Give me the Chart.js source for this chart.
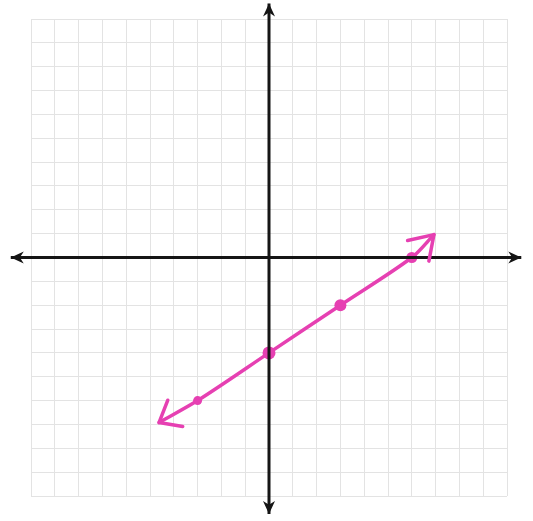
<!DOCTYPE html>
<html>
<head>
<meta charset="utf-8">
<script src="https://cdn.jsdelivr.net/npm/chart.js@4"></script>
<style>
html,body{margin:0;padding:0;background:#fff;}
#wrap{width:533px;height:521px;}
</style>
</head>
<body>
<div id="wrap"><canvas id="c" width="533" height="521"></canvas></div>
<script>
// Grid range
const gridMin = -10;
const gridMax = 10;
// Axis line extents (beyond the grid, with arrowheads)
const xAxisExtent = [-10.85, 10.6];
const yAxisExtent = [-10.75, 10.65];
// Plotted points
const pointX = [-3, 0, 3, 6];
const pointY = [-6, -4, -2, 0];
const pointSize = [4.5, 6.5, 6, 5.5];
// Hand-drawn line through the points (ends are arrow tips)
const lineX = [-4.62, -3, 0, 3, 6, 6.93];
const lineY = [-6.92, -6, -4, -2, 0, 0.96];

const pink = '#e640b2';
const ink = '#151515';

const arrowPlugin = {
  id: 'arrows',
  afterDatasetsDraw(chart) {
    const ctx = chart.ctx;
    const xs = chart.scales.x, ys = chart.scales.y;
    const P = (x, y) => [xs.getPixelForValue(x), ys.getPixelForValue(y)];
    function filled(tip, from, len, half) {
      const a = Math.atan2(tip[1] - from[1], tip[0] - from[0]);
      ctx.save();
      ctx.fillStyle = ink;
      ctx.beginPath();
      ctx.moveTo(tip[0], tip[1]);
      ctx.lineTo(tip[0] - len * Math.cos(a) + half * Math.sin(a), tip[1] - len * Math.sin(a) - half * Math.cos(a));
      ctx.lineTo(tip[0] - len * 0.7 * Math.cos(a), tip[1] - len * 0.7 * Math.sin(a));
      ctx.lineTo(tip[0] - len * Math.cos(a) - half * Math.sin(a), tip[1] - len * Math.sin(a) + half * Math.cos(a));
      ctx.closePath();
      ctx.fill();
      ctx.restore();
    }
    filled(P(xAxisExtent[1], 0), P(0, 0), 13, 6);
    filled(P(xAxisExtent[0], 0), P(0, 0), 13, 6);
    filled(P(0, yAxisExtent[1]), P(0, 0), 13, 6);
    filled(P(0, yAxisExtent[0]), P(0, 0), 13, 6);
    function chevron(tip, from, len, spread) {
      const back = Math.atan2(from[1] - tip[1], from[0] - tip[0]);
      ctx.save();
      ctx.strokeStyle = pink;
      ctx.lineWidth = 3.5;
      ctx.lineCap = 'round';
      ctx.lineJoin = 'round';
      ctx.beginPath();
      ctx.moveTo(tip[0] + len * Math.cos(back + spread), tip[1] + len * Math.sin(back + spread));
      ctx.lineTo(tip[0], tip[1]);
      ctx.lineTo(tip[0] + len * Math.cos(back - spread), tip[1] + len * Math.sin(back - spread));
      ctx.stroke();
      ctx.restore();
    }
    const n = lineX.length;
    chevron(P(lineX[0], lineY[0]), P(lineX[1], lineY[1]), 24, 0.68);
    chevron(P(lineX[n - 1], lineY[n - 1]), P(lineX[n - 2], lineY[n - 2]), 27, 0.58);
  }
};

const gridOpts = {
  min: gridMin, max: gridMax,
  type: 'linear',
  ticks: { display: false, stepSize: 1 },
  grid: { color: '#e3e3e3', lineWidth: 1, drawTicks: false },
  border: { display: false }
};

new Chart(document.getElementById('c'), {
  type: 'scatter',
  data: {
    datasets: [
      {
        label: 'x-axis',
        data: xAxisExtent.map(v => ({ x: v, y: 0 })),
        showLine: true, borderColor: ink, borderWidth: 3, pointRadius: 0, clip: false
      },
      {
        label: 'y-axis',
        data: yAxisExtent.map(v => ({ x: 0, y: v })),
        showLine: true, borderColor: ink, borderWidth: 3, pointRadius: 0, clip: false
      },
      {
        label: 'line',
        data: lineX.map((x, i) => ({ x, y: lineY[i] })),
        showLine: true, borderColor: pink, borderWidth: 3.5, pointRadius: 0,
        tension: 0.3, borderCapStyle: 'round', clip: false
      },
      {
        label: 'points',
        data: pointX.map((x, i) => ({ x, y: pointY[i] })),
        showLine: false, pointRadius: pointSize, pointBackgroundColor: pink,
        pointBorderColor: pink, pointBorderWidth: 0, clip: false
      }
    ]
  },
  options: {
    responsive: false,
    animation: false,
    events: [],
    layout: { padding: { left: 31, right: 26, top: 19, bottom: 25 } },
    plugins: { legend: { display: false }, tooltip: { enabled: false } },
    scales: { x: gridOpts, y: gridOpts }
  },
  plugins: [arrowPlugin]
});
</script>
</body>
</html>
